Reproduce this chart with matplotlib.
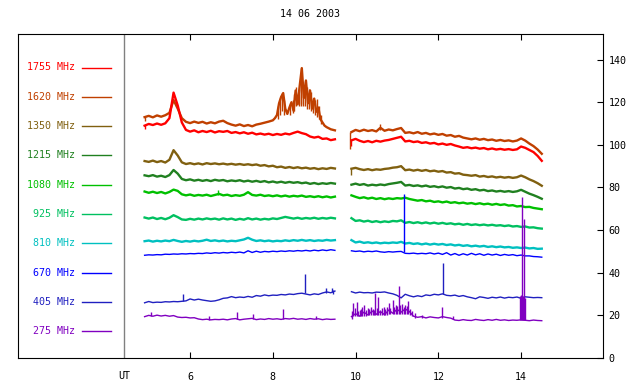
import matplotlib
matplotlib.use("Agg")
import matplotlib.pyplot as plt

# --- DANE ---
title = "14 06 2003"

# czasy [UT, h]
t_a = [4.9, 5.0, 5.1, 5.2, 5.3, 5.4, 5.5, 5.6, 5.7, 5.8, 5.9, 6.0, 6.1, 6.2, 6.3, 6.4,
       6.5, 6.6, 6.7, 6.8, 6.9, 7.0, 7.1, 7.2, 7.3, 7.4, 7.5, 7.6, 7.7, 7.8, 7.9, 8.0,
       8.1, 8.2, 8.3, 8.4, 8.5, 8.6, 8.7, 8.8, 8.9, 9.0, 9.1, 9.2, 9.3, 9.4, 9.5]
t_b = [9.9, 10.0, 10.1, 10.2, 10.3, 10.4, 10.5, 10.6, 10.7, 10.8, 10.9, 11.0, 11.1, 11.2,
       11.3, 11.4, 11.5, 11.6, 11.7, 11.8, 11.9, 12.0, 12.1, 12.2, 12.3, 12.4, 12.5, 12.6,
       12.7, 12.8, 12.9, 13.0, 13.1, 13.2, 13.3, 13.4, 13.5, 13.6, 13.7, 13.8, 13.9, 14.0,
       14.1, 14.2, 14.3, 14.4, 14.5]
# 1620 MHz ma gestsze probkowanie w czasie rozblysku
t_a_1620 = [4.9, 5.0, 5.1, 5.2, 5.3, 5.4, 5.5, 5.6, 5.7, 5.8, 5.9, 6.0, 6.1, 6.2, 6.3, 6.4,
            6.5, 6.6, 6.7, 6.8, 6.9, 7.0, 7.1, 7.2, 7.3, 7.4, 7.5, 7.6, 7.7, 7.8, 7.9, 8.0,
            8.05, 8.10, 8.15, 8.20, 8.25, 8.30, 8.35, 8.40, 8.45, 8.50, 8.55, 8.60, 8.65,
            8.70, 8.75, 8.80, 8.85, 8.90, 8.95, 9.00, 9.05, 9.10, 9.15, 9.20, 9.25, 9.30,
            9.40, 9.50]

f1755_a = [109.0, 109.8, 109.3, 110.0, 109.4, 110.1, 112.5, 124.5, 118.5, 110.5, 107.0, 106.2,
           106.8, 105.9, 106.5, 106.0, 106.6, 105.8, 106.4, 106.1, 106.5, 105.6, 106.0, 105.4,
           105.9, 105.2, 105.7, 104.9, 105.3, 104.8, 105.2, 104.6, 105.1, 104.7, 105.3, 104.9,
           105.6, 106.2, 105.5, 105.0, 103.9, 103.4, 103.8, 102.8, 103.0, 102.2, 102.6]
f1755_b = [102.1, 102.8, 101.9, 101.3, 101.8, 101.2, 101.9, 101.5, 102.0, 102.3, 102.8, 103.3,
           103.8, 101.6, 101.9, 101.3, 101.6, 100.9, 101.2, 100.6, 100.9, 100.2, 100.6, 100.0,
           100.4, 99.7, 99.2, 98.6, 98.9, 98.4, 98.7, 98.2, 98.5, 97.9, 98.3, 97.8, 98.1, 97.7,
           98.0, 97.6, 97.9, 99.2, 98.6, 97.6, 96.6, 94.8, 92.5]

f1620_a = [113.0, 113.6, 112.9, 113.8, 113.2, 113.9, 115.0, 121.0, 117.0, 112.5, 110.8, 110.2,
           110.9, 110.3, 110.8, 110.0, 110.6, 110.1, 110.9, 111.3, 110.2, 109.5, 109.0, 109.6,
           108.8, 109.3, 108.7, 109.5, 109.9, 110.4, 110.9, 111.5,
           112.5, 114.0, 119.5, 122.5, 124.3, 117.0, 114.5, 117.5, 120.0, 116.0, 125.5, 119.0,
           127.9, 136.0, 122.0, 130.2, 119.5, 125.5, 117.0, 121.7, 115.5, 117.5, 112.0, 110.5,
           109.0, 108.3, 107.3, 106.8]
f1620_b = [106.0, 107.0, 106.4, 107.1, 106.5, 106.9, 106.3, 108.0, 106.6, 107.2, 106.8, 107.4,
           107.9, 105.6, 105.9, 105.4, 106.0, 105.2, 105.6, 104.9, 105.3, 104.7, 105.1, 104.3,
           104.6, 103.8, 104.2, 103.4, 103.0, 102.6, 103.0, 102.4, 102.8, 102.2, 102.5, 101.9,
           102.3, 101.8, 102.1, 101.6, 102.0, 103.0, 102.0, 100.6, 99.4, 97.8, 95.8]

f1350_a = [92.4, 92.0, 92.6, 91.9, 92.4, 91.7, 93.0, 97.5, 95.0, 91.8, 91.0, 91.4, 90.9, 91.3,
           90.8, 91.4, 91.0, 91.3, 90.9, 91.2, 90.8, 91.1, 90.7, 91.0, 90.6, 90.9, 90.5, 90.8,
           90.2, 90.5, 89.9, 90.2, 89.5, 89.8, 89.2, 89.6, 89.1, 89.5, 89.0, 89.3, 88.8, 89.1,
           88.6, 89.0, 88.7, 89.2, 88.9]
f1350_b = [88.8, 89.2, 88.6, 88.2, 88.6, 88.1, 88.5, 88.3, 88.7, 88.9, 89.3, 89.5, 90.0, 88.1,
           88.4, 87.9, 88.3, 87.8, 88.2, 87.6, 87.9, 87.4, 87.7, 87.0, 87.2, 86.5, 86.7, 86.0,
           85.8, 85.5, 85.8, 85.1, 85.4, 84.9, 85.2, 84.7, 85.0, 84.6, 84.9, 84.5, 84.8, 85.6,
           84.8, 83.8, 83.0, 82.0, 80.8]

f1215_a = [85.7, 85.3, 85.8, 85.1, 85.5, 84.9, 85.8, 88.2, 86.5, 84.0, 83.4, 83.8, 83.2, 83.6,
           83.1, 83.5, 83.0, 83.6, 83.2, 83.5, 82.9, 83.3, 83.0, 83.4, 82.8, 83.2, 82.7, 83.1,
           82.6, 83.0, 82.4, 82.8, 82.3, 82.7, 82.2, 82.6, 82.2, 82.5, 82.0, 82.3, 81.7, 82.1,
           81.6, 82.0, 81.7, 82.1, 81.8]
f1215_b = [81.3, 81.8, 81.2, 81.6, 80.9, 81.3, 81.0, 81.4, 81.1, 81.6, 81.9, 82.2, 82.6, 80.9,
           81.2, 80.7, 81.0, 80.5, 80.9, 80.3, 80.6, 80.1, 80.5, 79.9, 80.2, 79.5, 79.8, 79.2,
           79.5, 78.9, 79.2, 78.6, 78.9, 78.3, 78.6, 78.1, 78.4, 78.0, 78.3, 77.9, 78.2, 78.9,
           78.0, 77.1, 76.4, 75.6, 74.7]

f1080_a = [78.1, 77.5, 78.0, 77.4, 77.9, 77.2, 77.9, 79.0, 78.4, 76.8, 76.3, 76.7, 76.1, 76.5,
           76.2, 76.6, 76.0, 76.5, 77.0, 76.3, 76.6, 76.0, 76.4, 76.1, 76.6, 77.8, 76.5, 76.2,
           76.6, 76.0, 76.3, 75.9, 76.3, 75.8, 76.2, 75.7, 76.1, 75.8, 76.2, 75.6, 75.9, 75.5,
           75.9, 75.4, 75.8, 75.3, 75.7]
f1080_b = [76.3, 75.6, 75.0, 75.4, 74.8, 75.2, 74.6, 75.0, 74.5, 74.9, 74.6, 75.0, 74.8, 75.2,
           74.6, 74.2, 73.8, 74.1, 73.5, 73.8, 73.2, 73.5, 73.0, 73.4, 72.8, 73.1, 72.6, 72.9,
           72.4, 72.7, 72.2, 72.6, 72.1, 72.4, 71.9, 72.3, 71.8, 72.1, 71.5, 71.7, 71.1, 71.3,
           70.8, 70.9, 70.4, 70.1, 69.8]

f925_a = [65.9, 65.4, 65.9, 65.2, 65.7, 65.1, 65.8, 67.0, 66.1, 65.0, 64.8, 65.3, 64.9, 65.4,
          65.0, 65.5, 65.1, 65.4, 64.9, 65.5, 65.0, 65.4, 64.8, 65.3, 64.9, 65.6, 65.0, 65.4,
          64.9, 65.3, 65.0, 65.5, 65.2, 65.7, 66.2, 65.8, 65.4, 65.8, 65.3, 65.7, 65.4, 65.8,
          65.3, 65.7, 65.4, 65.8, 65.5]
f925_b = [65.6, 64.3, 64.6, 64.0, 64.4, 63.8, 64.2, 63.7, 64.1, 63.8, 64.3, 64.1, 64.6, 63.4,
          63.8, 63.3, 63.7, 63.2, 63.6, 63.1, 63.5, 63.0, 63.4, 62.9, 63.2, 62.7, 63.0, 62.5,
          62.9, 62.4, 62.7, 62.3, 62.6, 62.2, 62.5, 62.1, 62.3, 61.9, 62.2, 61.7, 61.9, 61.5,
          61.7, 61.2, 61.3, 60.9, 60.7]

f810_a = [54.8, 55.1, 54.6, 55.0, 54.7, 55.1, 54.8, 55.4, 54.9, 54.5, 54.9, 54.6, 55.0, 54.7,
          55.0, 55.5, 54.9, 55.2, 54.8, 55.1, 54.7, 55.0, 54.8, 55.2, 55.6, 56.4, 55.5, 54.9,
          55.2, 54.8, 55.1, 54.7, 55.0, 54.8, 55.2, 54.9, 55.3, 55.0, 55.4, 55.0, 55.3, 54.9,
          55.2, 55.0, 55.4, 55.1, 55.3]
f810_b = [55.3, 54.2, 54.6, 54.0, 54.3, 53.9, 54.2, 53.8, 54.1, 53.9, 54.2, 54.0, 54.5, 53.7,
          54.0, 53.5, 53.8, 53.3, 53.7, 53.2, 53.6, 53.2, 53.5, 53.0, 53.3, 52.8, 53.1, 52.6,
          52.9, 52.4, 52.7, 52.3, 52.6, 52.1, 52.4, 52.0, 52.3, 51.9, 52.1, 51.7, 51.9, 51.6,
          51.8, 51.4, 51.6, 51.2, 51.3]

f670_a = [48.2, 48.4, 48.3, 48.5, 48.4, 48.7, 48.6, 48.8, 48.7, 48.9, 48.8, 49.0, 48.9, 49.1,
          49.0, 49.3, 49.1, 49.4, 49.2, 49.5, 49.3, 49.6, 49.4, 49.7, 49.3, 50.3, 49.5, 50.1,
          49.6, 50.0, 49.8, 50.1, 49.9, 50.2, 50.0, 50.3, 50.1, 50.4, 50.2, 50.5, 50.2, 50.6,
          50.3, 50.7, 50.4, 50.8, 50.5]
f670_b = [50.3, 50.0, 50.2, 49.8, 50.1, 49.9, 50.2, 49.8, 49.6, 49.9, 49.7, 49.9, 50.0, 49.1,
          49.0, 49.2, 48.9, 49.1, 48.9, 49.3, 48.8, 49.2, 48.6, 49.4, 48.3, 49.0, 48.2, 48.9,
          48.3, 49.1, 48.4, 48.9, 48.2, 48.8, 48.3, 48.7, 48.1, 48.6, 48.2, 48.5, 48.0, 48.3,
          47.9, 47.9, 47.6, 47.5, 47.3]

f405_a = [25.9, 26.5, 26.0, 26.2, 26.1, 26.4, 26.3, 26.5, 26.4, 26.6, 26.8, 27.7, 27.2, 27.6,
          27.2, 26.9, 26.6, 26.8, 27.3, 28.0, 28.2, 28.8, 28.3, 28.6, 28.4, 28.9, 28.5, 29.3,
          29.0, 29.6, 29.2, 29.5, 29.4, 29.8, 29.6, 30.0, 29.8, 30.2, 30.4, 30.0, 29.6, 30.1,
          29.8, 30.5, 31.0, 30.6, 31.4]
f405_b = [31.1, 30.5, 30.9, 30.6, 30.7, 30.5, 30.9, 30.8, 31.0, 30.5, 30.1, 29.4, 28.2, 29.9,
          29.2, 28.7, 29.2, 28.8, 29.6, 29.3, 29.9, 29.6, 30.1, 29.4, 29.2, 29.5, 28.9, 29.3,
          28.7, 28.3, 27.8, 28.7, 28.4, 28.0, 28.5, 28.2, 28.6, 28.1, 28.5, 28.3, 28.6, 28.0,
          28.7, 28.5, 28.3, 28.4, 28.3]

f275_a = [19.4, 20.0, 19.6, 20.1, 19.7, 20.0, 19.6, 19.9, 19.2, 19.0, 19.1, 18.8, 18.9, 18.3,
          18.0, 18.2, 17.9, 18.1, 18.0, 18.2, 17.9, 18.3, 18.5, 17.9, 18.2, 18.4, 18.6, 18.0,
          18.3, 18.1, 18.5, 18.2, 18.4, 18.1, 18.5, 18.3, 18.6, 18.2, 18.4, 18.1, 18.5, 18.2,
          18.4, 18.0, 18.3, 18.1, 18.2]
f275_b = [19.4, 20.8, 19.6, 21.5, 20.2, 22.0, 20.5, 21.8, 20.3, 22.5, 21.0, 22.8, 21.5, 23.0,
          21.8, 19.6, 19.1, 19.4, 18.8, 19.3, 19.0, 18.8, 19.4, 19.0, 18.7, 17.8, 17.6, 18.0,
          17.7, 17.6, 18.1, 17.8, 17.6, 18.0, 17.7, 18.1, 17.7, 17.9, 17.6, 17.8, 17.7, 17.9,
          17.7, 17.5, 17.8, 17.6, 17.5]

# pojedyncze piki: (czas, od, do)
spikes_1755 = [(4.9, 107.5, 109.5), (9.9, 99.5, 102.1)]
spikes_1620 = [(4.9, 111.0, 113.5), (9.87, 98.2, 106.0), (10.58, 106.8, 110.0),
               (8.12, 112.0, 118.0), (8.18, 114.0, 122.0), (8.22, 116.0, 124.5),
               (8.28, 114.0, 121.0), (8.42, 114.0, 119.0), (8.48, 115.0, 121.0),
               (8.52, 116.0, 124.0), (8.57, 118.0, 127.0), (8.62, 118.0, 126.0),
               (8.67, 119.0, 136.0), (8.69, 118.0, 131.0), (8.72, 118.0, 128.0),
               (8.77, 118.0, 130.0), (8.82, 117.0, 127.0), (8.87, 117.0, 126.0),
               (8.92, 116.0, 125.0), (8.97, 115.0, 122.0), (9.02, 114.0, 121.0),
               (9.07, 113.0, 121.7), (9.12, 112.0, 118.0), (9.17, 110.0, 114.0)]
spikes_1350 = [(9.9, 85.7, 89.0)]
spikes_1080 = [(6.68, 76.3, 79.0)]
spikes_670 = [(11.16, 49.5, 76.8)]
spikes_405 = [(5.84, 26.6, 29.8), (8.77, 30.3, 39.3), (9.28, 30.5, 32.9),
              (9.42, 30.8, 33.0), (9.46, 30.0, 32.0), (12.12, 30.1, 44.8)]
spikes_275 = [(5.05, 19.8, 21.5), (6.45, 18.0, 19.5), (7.13, 18.3, 21.4), (7.52, 18.5, 20.8),
              (8.25, 18.3, 22.9), (9.05, 18.2, 19.6),
              (9.92, 18.5, 22.0), (9.94, 19.5, 25.6), (9.98, 19.5, 23.3), (10.03, 19.5, 26.4),
              (10.06, 19.5, 22.0), (10.10, 19.5, 22.5), (10.13, 19.5, 23.0), (10.16, 19.8, 24.1),
              (10.21, 19.8, 24.8), (10.25, 19.8, 22.5), (10.29, 20.0, 23.3), (10.33, 20.0, 22.8),
              (10.37, 20.0, 24.1), (10.41, 20.0, 23.0), (10.44, 20.0, 22.6), (10.47, 20.0, 30.3),
              (10.51, 20.0, 23.5), (10.55, 20.0, 28.7), (10.60, 20.0, 22.5), (10.64, 20.0, 23.4),
              (10.68, 20.0, 24.1), (10.72, 20.3, 23.0), (10.76, 20.3, 24.0), (10.80, 20.5, 25.6),
              (10.84, 20.5, 23.5), (10.90, 20.5, 27.2), (10.94, 20.5, 24.0), (10.98, 20.5, 25.0),
              (11.01, 20.5, 24.5), (11.04, 20.5, 33.7), (11.08, 20.5, 24.8), (11.12, 20.5, 25.5),
              (11.16, 20.5, 24.0), (11.20, 20.5, 25.0), (11.24, 20.5, 24.2), (11.27, 20.5, 26.6),
              (11.31, 20.0, 23.0), (11.36, 19.5, 22.0), (11.43, 19.0, 21.1), (11.60, 18.8, 20.4),
              (12.10, 18.8, 23.7), (12.36, 18.5, 19.6),
              (13.98, 17.8, 29.0), (14.00, 17.8, 29.5), (14.02, 17.8, 75.3), (14.05, 17.8, 29.0),
              (14.08, 17.8, 65.4), (14.10, 17.8, 28.0)]

labels = ["1755 MHz", "1620 MHz", "1350 MHz", "1215 MHz", "1080 MHz",
          "925 MHz", "810 MHz", "670 MHz", "405 MHz", "275 MHz"]
colors = ["#ff0000", "#c04000", "#806010", "#208020", "#00c000",
          "#00c060", "#00c0c0", "#0000ff", "#2020c0", "#8000c0"]

series = [
    (t_a, f1755_a, t_b, f1755_b, spikes_1755),
    (t_a_1620, f1620_a, t_b, f1620_b, spikes_1620),
    (t_a, f1350_a, t_b, f1350_b, spikes_1350),
    (t_a, f1215_a, t_b, f1215_b, []),
    (t_a, f1080_a, t_b, f1080_b, spikes_1080),
    (t_a, f925_a, t_b, f925_b, []),
    (t_a, f810_a, t_b, f810_b, []),
    (t_a, f670_a, t_b, f670_b, spikes_670),
    (t_a, f405_a, t_b, f405_b, spikes_405),
    (t_a, f275_a, t_b, f275_b, spikes_275),
]

# --- WYKRES ---
plt.rcParams['font.family'] = ['DejaVu Sans Mono']
plt.rcParams['font.size'] = 7.2

fig = plt.figure(figsize=(6.4, 3.84), dpi=100)
ax = fig.add_axes([18 / 640, 1 - 358 / 384, 585 / 640, 324 / 384])
ax.set_xlim(1.84, 15.98)
ax.set_ylim(0, 152)

# czerwona krzywa nad pomaranczowa
zorders = [4, 3, 5, 6, 7, 8, 9, 10, 11, 12]
for (ta, va, tb, vb, sp), col, z in zip(series, colors, zorders):
    lw = 1.0 if col in ("#0000ff", "#2020c0", "#8000c0") else 1.7
    ax.plot(ta, va, color=col, lw=lw, zorder=z)
    ax.plot(tb, vb, color=col, lw=lw, zorder=z)
    if sp:
        ax.vlines([s[0] for s in sp], [s[1] for s in sp], [s[2] for s in sp],
                  color=col, lw=1.0, zorder=z)

# legenda po lewej
ax.axvline(4.4, color="#808080", lw=1.0)
for i, (lab, col) in enumerate(zip(labels, colors)):
    yp = 1 - (67.5 + i * 29.3 - 34) / 324
    ax.text(75 / 585 - 18 / 585, yp, lab, color=col, ha="right", va="center",
            transform=ax.transAxes)
    ax.plot([(82 - 18) / 585, (111 - 18) / 585], [yp, yp], color=col, lw=1.0,
            transform=ax.transAxes)

ax.set_xticks([6, 8, 10, 12, 14])
ax.set_yticks(range(0, 141, 20))
ax.yaxis.tick_right()
ax.tick_params(axis="x", which="both", direction="in", length=4, top=True, bottom=True,
               pad=10)
ax.tick_params(axis="y", direction="in", length=4, left=False, right=True, pad=4)
ax.text(4.4, -0.04, "UT", ha="center", va="top", transform=ax.get_xaxis_transform())

ax.set_title(title, fontsize=7.2, pad=12)

fig.savefig("out.png", dpi=100)
